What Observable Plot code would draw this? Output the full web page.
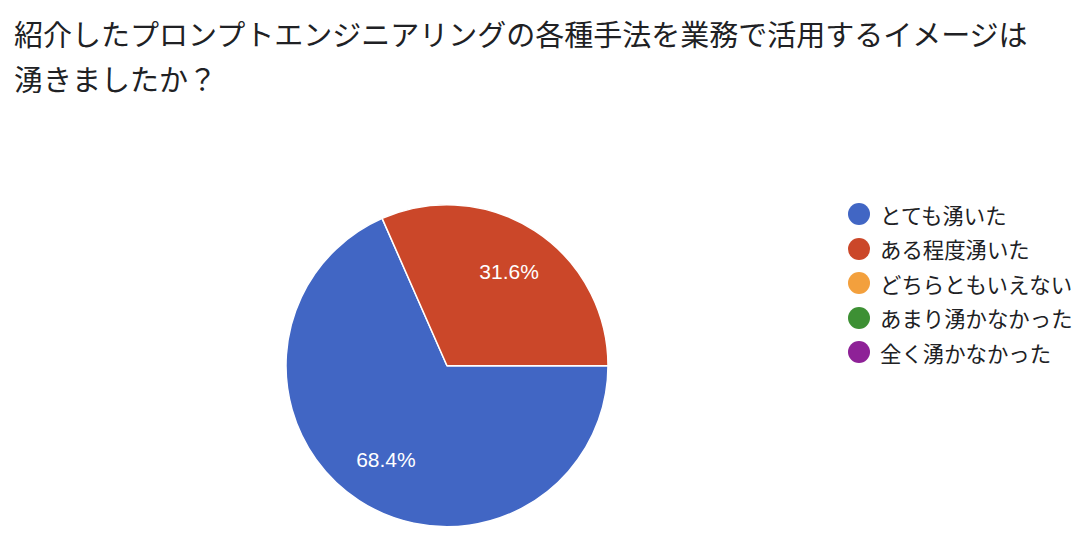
<!DOCTYPE html>
<html>
<head>
<meta charset="utf-8">
<script src="https://cdn.jsdelivr.net/npm/d3@7"></script>
<script src="https://cdn.jsdelivr.net/npm/@observablehq/plot@0.6"></script>
<style>
  html, body { margin: 0; padding: 0; background: #fff; }
  #root { position: relative; width: 1074px; height: 540px; overflow: hidden; background: #fff; }
  #title { position: absolute; left: 14px; top: 11px; font-family: "Noto Sans CJK JP", sans-serif; font-size: 29px; line-height: 45px; color: #202124; white-space: nowrap; }
  #chart { position: absolute; left: 0; top: 99px; }
  #legend { position: absolute; left: 848px; top: 197px; font-family: "Noto Sans CJK JP", sans-serif; font-size: 21.4px; color: #202124; }
  .row { display: flex; align-items: center; height: 34.5px; white-space: nowrap; }
  .sw { width: 22px; height: 22px; border-radius: 50%; margin-right: 10px; flex: none; }
</style>
</head>
<body>
<div id="root">
  <div id="title"></div>
  <div id="chart"></div>
  <div id="legend"></div>
</div>
<script>
const titleLines = ["紹介したプロンプトエンジニアリングの各種手法を業務で活用するイメージは", "湧きましたか？"];
const categories = ["とても湧いた", "ある程度湧いた", "どちらともいえない", "あまり湧かなかった", "全く湧かなかった"];
const percents = [68.4, 31.6, 0, 0, 0];
const colors = ["#4166c4", "#cb4729", "#f3a03d", "#3d9034", "#8e2197"];

const data = categories.map((c, i) => ({category: c, value: percents[i], color: colors[i]}));

document.getElementById("title").innerHTML = titleLines.join("<br>");

const pie = d3.pie().sort(null).value(d => d.value)
  .startAngle(Math.PI / 2).endAngle(Math.PI / 2 + 2 * Math.PI);
const arcs = pie(data);

const labels = arcs.filter(a => a.data.value > 0).map(a => {
  const m = (a.startAngle + a.endAngle) / 2;
  return {x: 0.7 * Math.sin(m), y: 0.7 * Math.cos(m), text: a.data.value.toFixed(1) + "%"};
});

function pieMark(index, scales) {
  const cx = scales.x(0), cy = scales.y(0);
  const r = scales.x(1) - scales.x(0);
  const arc = d3.arc().innerRadius(0).outerRadius(r);
  const g = d3.create("svg:g").attr("transform", `translate(${cx},${cy})`);
  g.selectAll("path")
    .data(arcs.filter(a => a.data.value > 0))
    .join("path")
    .attr("d", arc)
    .attr("fill", d => d.data.color)
    .attr("stroke", "#fff")
    .attr("stroke-width", 1.5)
    .attr("stroke-linejoin", "round");
  return g.node();
}

const chart = Plot.plot({
  width: 1074,
  height: 441,
  margin: 0,
  x: {domain: [-1, 1], range: [286, 608], axis: null},
  y: {domain: [-1, 1], range: [427.7, 105.7], axis: null},
  marks: [
    pieMark,
    Plot.text(labels, {
      x: "x", y: "y", text: "text",
      fill: "#fff", fontSize: 21,
      fontFamily: "'Liberation Sans', Arial, sans-serif"
    })
  ]
});
document.getElementById("chart").appendChild(chart);

const legend = d3.select("#legend");
const rows = legend.selectAll("div.row").data(data).join("div").attr("class", "row");
rows.append("div").attr("class", "sw").style("background", d => d.color);
rows.append("span").text(d => d.category);
</script>
</body>
</html>
